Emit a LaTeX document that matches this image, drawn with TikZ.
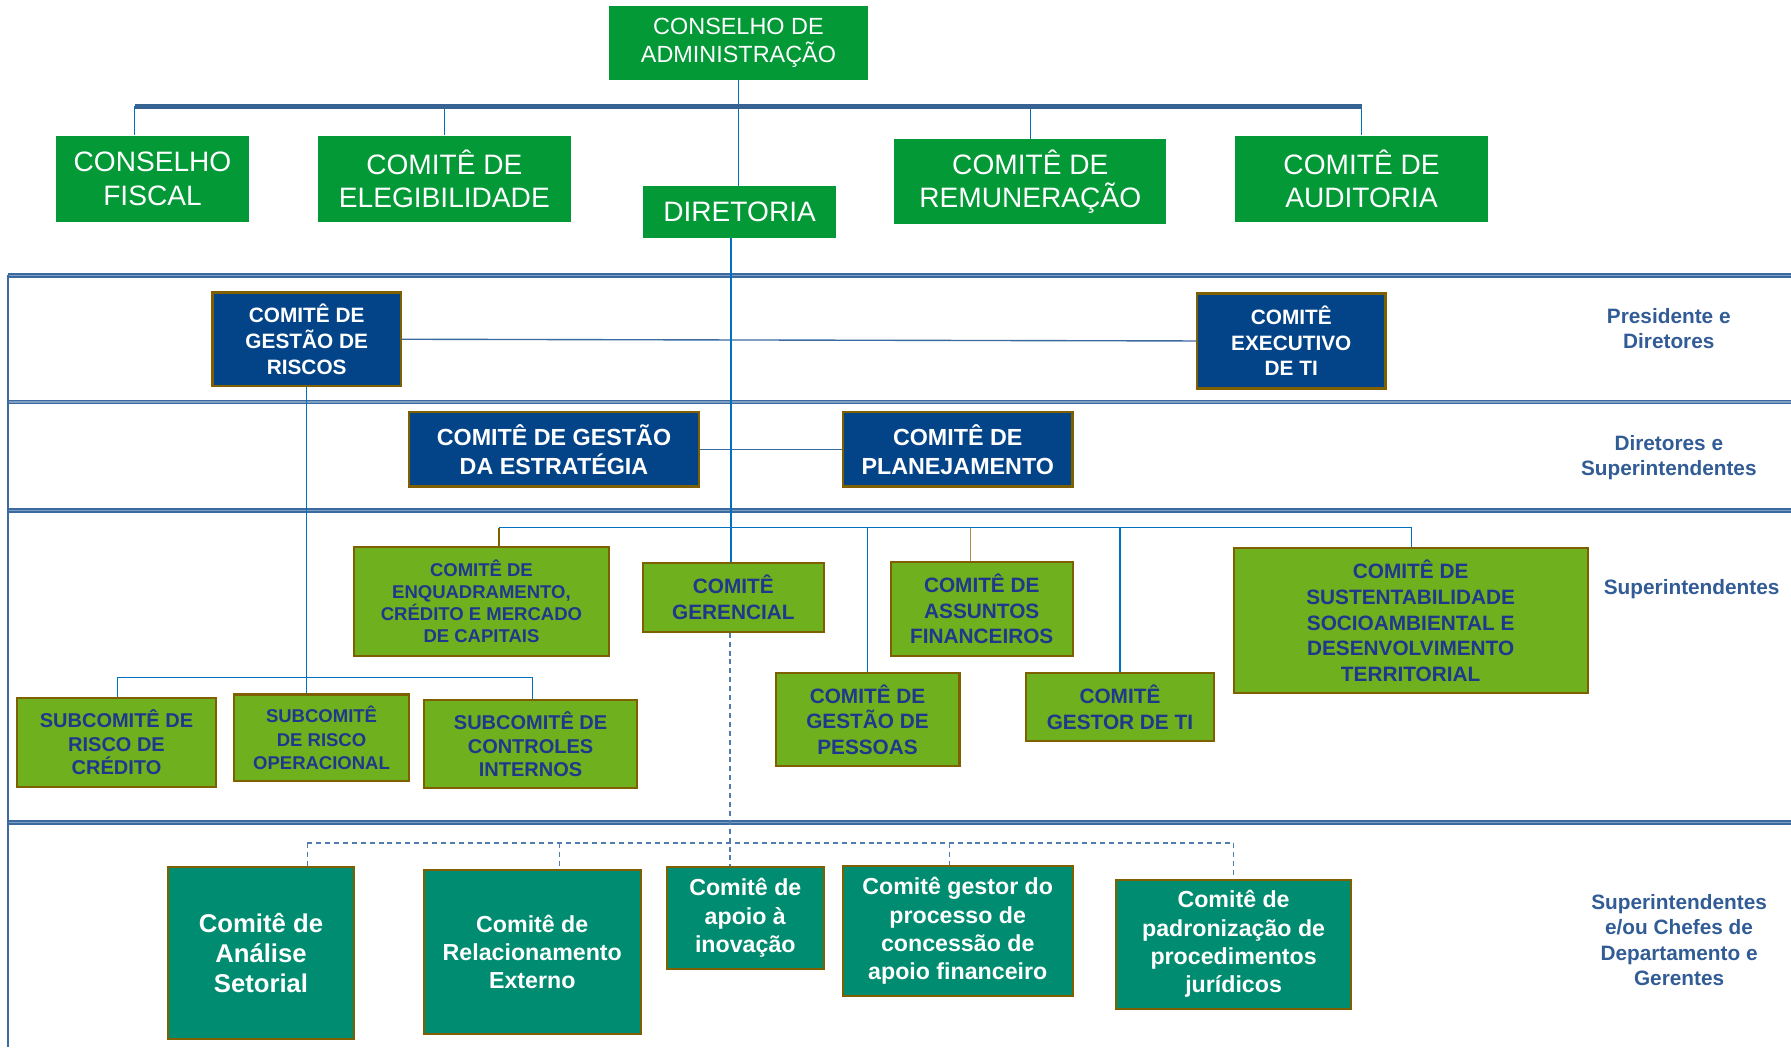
\documentclass[tikz,border=0pt]{standalone}
\usepackage{fontspec}
\setmainfont{Liberation Sans}
\usepackage{tikz}

\definecolor{topgreen}{RGB}{2,153,54}
\definecolor{boxblue}{RGB}{3,68,136}
\definecolor{boxedge}{RGB}{127,96,0}
\definecolor{leafgreen}{RGB}{110,176,30}
\definecolor{txtblue}{RGB}{32,56,140}
\definecolor{tealbox}{RGB}{0,140,112}
\definecolor{bandblue}{RGB}{58,106,160}
\definecolor{barblue}{RGB}{54,98,148}
\definecolor{linkblue}{RGB}{0,112,192}
\definecolor{tierblue}{RGB}{50,92,150}
\definecolor{dashblue}{RGB}{80,125,175}

\tikzset{
    topbox/.style={fill=topgreen, text=white, align=center, inner sep=0pt,
        font=\fontsize{12.3}{14.5}\selectfont},
    bluebox/.style={fill=boxblue, draw=boxedge, line width=1pt, text=white,
        align=center, inner sep=0pt, font=\bfseries\fontsize{9.1}{11.25}\selectfont},
    leafbox/.style={fill=leafgreen, draw=boxedge, line width=0.9pt, text=txtblue,
        align=center, inner sep=0pt, font=\bfseries\fontsize{9.1}{11.2}\selectfont},
    seabox/.style={fill=tealbox, draw=boxedge, line width=0.9pt, text=white,
        align=center, inner sep=0pt, font=\bfseries\fontsize{10.15}{12.4}\selectfont},
    tier/.style={text=tierblue, align=center, inner sep=0pt,
        font=\bfseries\fontsize{9.1}{11}\selectfont},
    wire/.style={draw=linkblue, line width=0.6pt},
    dashwire/.style={draw=dashblue, line width=0.6pt, dash pattern=on 2.2pt off 1.7pt},
    band/.style={draw=bandblue, line width=0.75pt, double=bandblue!65, double distance=0.6pt}
}

\begin{document}
\begin{tikzpicture}[x=0.5pt, y=-0.5pt]

    \useasboundingbox (0,0) rectangle (1568,917);

    % faixas
    \coordinate (bandA) at (7,241);
    \coordinate (bandB) at (7,352);
    \coordinate (bandC) at (7,447);
    \coordinate (bandD) at (7,720);
    \coordinate (bandE) at (1568,241);
    \draw[band] (bandA) -- (bandE);
    \draw[band] (bandB) -- (bandB -| bandE);
    \draw[band] (bandC) -- (bandC -| bandE);
    \draw[band] (bandD) -- (bandD -| bandE);
    \draw[draw=bandblue, line width=1.3pt] (bandA) -- (7,917);

    % conselho
    \node[topbox,
        minimum width=113.5pt, minimum height=32.5pt,
        font=\fontsize{10.25}{12}\selectfont
    ] (adm) at (646.5,37.5) {CONSELHO DE\\ADMINISTRAÇÃO};

    \node[topbox,
        minimum width=84.5pt, minimum height=37.5pt
    ] (fiscal) at (133.5,156.5) {CONSELHO\\FISCAL};

    \node[topbox,
        minimum width=111pt, minimum height=37.5pt
    ] (elegib) at (389,156.5) {COMITÊ DE\\ELEGIBILIDADE};

    \node[topbox,
        minimum width=84.5pt, minimum height=22.5pt
    ] (diretoria) at (647.5,185.5) {DIRETORIA};

    \node[topbox,
        minimum width=119pt, minimum height=37pt
    ] (remun) at (902,159) {COMITÊ DE\\REMUNERAÇÃO};

    \node[topbox,
        minimum width=111pt, minimum height=37.5pt
    ] (audit) at (1192,156.5) {COMITÊ DE\\AUDITORIA};

    % barra superior
    \coordinate (barL) at (118,93);
    \coordinate (barR) at (1192,93);
    \draw[wire] (adm.south) -- (adm.south |- diretoria.north);
    \draw[wire] (barL) -- (barL |- fiscal.north);
    \draw[wire] (elegib.north) -- (elegib.north |- barL);
    \draw[wire] (remun.north) -- (remun.north |- barL);
    \draw[wire] (audit.north) -- (barR);
    \draw[draw=barblue, line width=2pt] (barL) -- (barR);

    % presidente e diretores
    \node[bluebox,
        minimum width=82.5pt, minimum height=41pt
    ] (riscos) at (268.5,297) {COMITÊ DE\\GESTÃO DE\\RISCOS};

    \node[bluebox,
        minimum width=82.5pt, minimum height=41.5pt
    ] (execti) at (1130.5,298.5) {COMITÊ\\EXECUTIVO\\DE TI};

    \draw[draw=bandblue, line width=0.6pt] (riscos.east) -- (execti.west);

    % diretores e superintendentes
    \node[bluebox,
        minimum width=127pt, minimum height=32.5pt,
        font=\bfseries\fontsize{10.2}{12.5}\selectfont
    ] (estrategia) at (485,393.5) {COMITÊ DE GESTÃO\\DA ESTRATÉGIA};

    \node[bluebox,
        minimum width=100.5pt, minimum height=32.5pt,
        font=\bfseries\fontsize{10.2}{12.5}\selectfont
    ] (planej) at (838.5,393.5) {COMITÊ DE\\PLANEJAMENTO};

    \draw[draw=bandblue, line width=0.6pt] (estrategia.east) -- (planej.west);

    % superintendentes
    \node[leafbox,
        minimum width=111.5pt, minimum height=47.5pt,
        font=\bfseries\fontsize{8.1}{9.65}\selectfont
    ] (enquad) at (421.5,526.5) {COMITÊ DE\\ENQUADRAMENTO,\\CRÉDITO E MERCADO\\DE CAPITAIS};

    \node[leafbox,
        minimum width=79pt, minimum height=30pt
    ] (gerencial) at (642,523) {COMITÊ\\GERENCIAL};

    \node[leafbox,
        minimum width=79.5pt, minimum height=41pt
    ] (assuntos) at (859.5,533) {COMITÊ DE\\ASSUNTOS\\FINANCEIROS};

    \node[leafbox,
        minimum width=80.5pt, minimum height=41pt
    ] (pessoas) at (759.5,630) {COMITÊ DE\\GESTÃO DE\\PESSOAS};

    \node[leafbox,
        minimum width=82.5pt, minimum height=30pt
    ] (gestorti) at (980.5,619) {COMITÊ\\GESTOR DE TI};

    \node[leafbox,
        minimum width=155pt, minimum height=63.5pt
    ] (sustent) at (1235,543.5) {COMITÊ DE\\SUSTENTABILIDADE\\SOCIOAMBIENTAL E\\DESENVOLVIMENTO\\TERRITORIAL};

    \node[leafbox,
        minimum width=87pt, minimum height=39pt,
        font=\bfseries\fontsize{8.75}{10.25}\selectfont
    ] (subcred) at (102,650) {SUBCOMITÊ DE\\RISCO DE\\CRÉDITO};

    \node[leafbox,
        minimum width=76.5pt, minimum height=38pt,
        font=\bfseries\fontsize{8.1}{10.25}\selectfont
    ] (subop) at (281.5,646) {SUBCOMITÊ\\DE RISCO\\OPERACIONAL};

    \node[leafbox,
        minimum width=93.5pt, minimum height=38.5pt,
        font=\bfseries\fontsize{8.75}{10.25}\selectfont
    ] (subctrl) at (464.5,651.5) {SUBCOMITÊ DE\\CONTROLES\\INTERNOS};

    % ligacoes dos superintendentes
    \coordinate (supL) at (437,462);
    \coordinate (supR) at (1236,462);
    \coordinate (finT) at (850,462);
    \coordinate (dirV) at (640,462);
    \draw[wire] (dirV |- diretoria.south) -- (dirV |- gerencial.north);
    \draw[wire] (supL) -- (supR);
    \draw[draw=boxedge, line width=0.6pt] (supL) -- (supL |- enquad.north);
    \draw[draw=boxedge!70, line width=0.5pt] (finT) -- (finT |- assuntos.north);
    \draw[wire] (pessoas.north) -- (pessoas.north |- supL);
    \draw[wire] (gestorti.north) -- (gestorti.north |- supL);
    \draw[wire] (supR) -- (supR |- sustent.north);

    \coordinate (subL) at (103,593);
    \coordinate (subR) at (466,593);
    \draw[wire] (riscos.south) -- (riscos.south |- subop.north);
    \draw[wire] (subL) -- (subR);
    \draw[wire] (subL) -- (subL |- subcred.north);
    \draw[wire] (subR) -- (subR |- subctrl.north);

    % superintendentes e/ou chefes
    \node[seabox,
        minimum width=81.5pt, minimum height=75.5pt,
        font=\bfseries\fontsize{11.25}{13.25}\selectfont
    ] (analise) at (228.5,834.5) {Comitê de\\Análise\\Setorial};

    \node[seabox,
        minimum width=95pt, minimum height=71.5pt
    ] (relac) at (466,833.5) {Comitê de\\Relacionamento\\Externo};

    \node[seabox,
        minimum width=68.5pt, minimum height=44.5pt
    ] (apoio) at (652.5,803.5) {Comitê de\\apoio à\\inovação};

    \node[seabox,
        minimum width=100.5pt, minimum height=57pt
    ] (gestorproc) at (838.5,815) {Comitê gestor do\\processo de\\concessão de\\apoio financeiro};

    \node[seabox,
        minimum width=103pt, minimum height=56.5pt
    ] (padron) at (1080,826.5) {Comitê de\\padronização de\\procedimentos\\jurídicos};

    \coordinate (dashL) at (269,738);
    \coordinate (dashR) at (1080,738);
    \coordinate (dashM) at (639,738);
    \coordinate (dashRel) at (490,738);
    \coordinate (dashProc) at (831,738);
    \draw[dashwire] (dashM |- gerencial.south) -- (dashM |- apoio.north);
    \draw[dashwire] (dashL) -- (dashR);
    \draw[dashwire] (dashL) -- (dashL |- analise.north);
    \draw[dashwire] (dashRel) -- (dashRel |- relac.north);
    \draw[dashwire] (dashProc) -- (dashProc |- gestorproc.north);
    \draw[dashwire] (dashR) -- (padron.north);

    % niveis
    \node[tier] (lvlPres) at (1461,288) {Presidente e\\Diretores};
    \node[tier] (lvlDir) at (1461,401) {Diretores e\\Superintendentes};
    \node[tier] (lvlSup) at (1481,516) {Superintendentes};
    \node[tier] (lvlGer) at (1470,823) {Superintendentes\\e/ou Chefes de\\Departamento e\\Gerentes};

\end{tikzpicture}
\end{document}
